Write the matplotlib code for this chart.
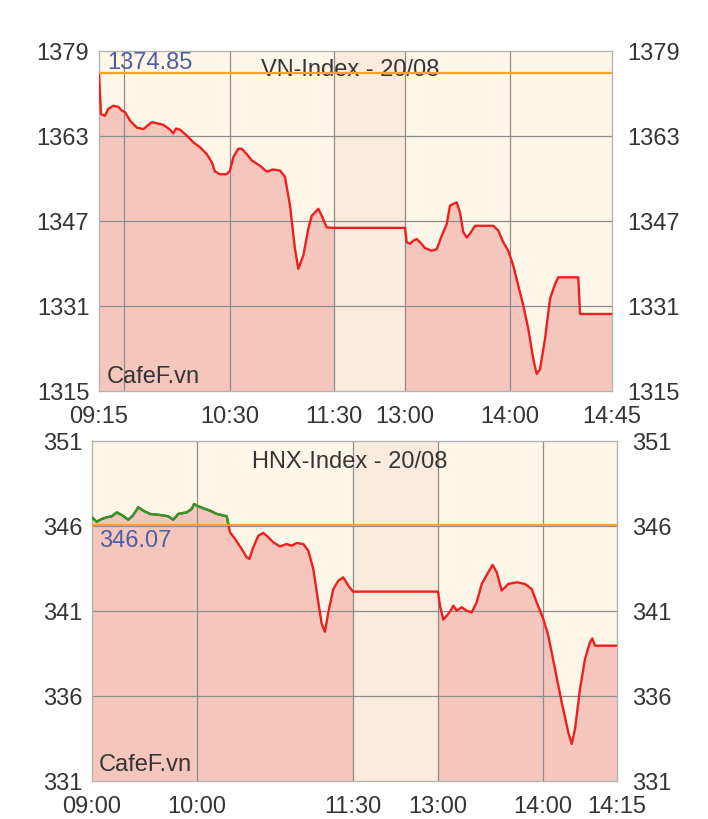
"""
Intraday VN-Index / HNX-Index charts, CafeF style
"""
import numpy as np
import matplotlib
matplotlib.use("Agg")
import matplotlib.pyplot as plt

plt.rcParams['font.family'] = ['Liberation Sans', 'DejaVu Sans']

# VN-Index (x is the chart's session slot, 09:15 = 0)
vn_x = [0, 2, 6, 9.3, 14.3, 19.3, 22.7, 26, 31, 37.7, 44.3, 47.7, 52.7, 57.7, 64.3,
        71, 74.3, 77, 81, 87.7, 94.3, 101, 107.7, 112.7, 116, 121, 127.7, 131, 134.3,
        139.3, 142.7, 147.7, 152.7, 161, 167.7, 174.3, 181, 186, 191, 196, 199.3,
        204.3, 209.3, 212.7, 216, 219.3, 222.7, 227.7, 235, 306, 307.7, 311, 314.3,
        317.7, 321, 326, 332.7, 337.7, 342.7, 347.7, 351, 357.7, 361, 364.3, 367.7,
        371, 376, 394.3, 399.3, 404.3, 409.3, 414.3, 419.3, 424.3, 429.3, 434.3,
        437.7, 441, 446, 451, 456, 459.3, 479.3, 481, 513]
vn_y = [1374.85, 1367.1, 1366.8, 1368.1, 1368.7, 1368.5, 1367.8, 1367.5, 1365.9, 1364.6,
        1364.3, 1364.8, 1365.6, 1365.4, 1365.1, 1364.2, 1363.5, 1364.4, 1364.2, 1363.1,
        1361.8, 1360.9, 1359.6, 1358.1, 1356.3, 1355.8, 1355.8, 1356.5, 1359.0, 1360.6,
        1360.6, 1359.6, 1358.4, 1357.4, 1356.3, 1356.7, 1356.5, 1355.3, 1349.9, 1341.7,
        1338.0, 1340.5, 1345.5, 1348.0, 1348.6, 1349.3, 1348.0, 1345.8, 1345.7, 1345.7,
        1343.0, 1342.7, 1343.3, 1343.6, 1343.0, 1341.9, 1341.4, 1341.7, 1344.2, 1346.4,
        1349.9, 1350.5, 1348.6, 1344.9, 1343.9, 1344.6, 1346.1, 1346.1, 1345.2, 1343.0,
        1341.4, 1338.6, 1334.8, 1331.1, 1326.7, 1321.0, 1318.2, 1319.1, 1324.8, 1332.3,
        1335.1, 1336.4, 1336.4, 1329.5, 1329.5]
vn_ref = 1374.85
vn_yticks = [1315, 1331, 1347, 1363, 1379]
vn_xticks = [0, 131, 235, 306, 411, 513]
vn_xlabels = ["09:15", "10:30", "11:30", "13:00", "14:00", "14:45"]
vn_extra_grid = [25]
vn_lunch = (235, 306)

# HNX-Index (09:00 = 0)
hnx_x = [0, 4.7, 9.7, 14.7, 19.7, 24.7, 29.7, 36.3, 41.3, 46.3, 51.3, 58, 68, 76.3,
         81.3, 86.3, 94.7, 99.7, 102, 106.3, 111.3, 118, 124.7, 134.7, 136.3, 138,
         143, 149.7, 154.7, 157.3, 161.3, 166.3, 171.3, 176.3, 181.3, 188, 194.7,
         199.7, 204.7, 211.3, 216.3, 221.3, 226.3, 229.7, 233, 236.3, 241.3, 246.3,
         251.3, 256.3, 261, 346, 348, 351.3, 354.7, 358, 361.3, 364.7, 369.7, 374.7,
         379.7, 384.7, 389.7, 396.3, 400.7, 404.7, 409.7, 416.3, 424.7, 433, 439.7,
         444.7, 451.3, 456.3, 463, 469.7, 476.3, 479.7, 483, 488, 493, 498, 500.3,
         503, 525]
hnx_y = [346.51, 346.25, 346.41, 346.51, 346.57, 346.80, 346.65, 346.37, 346.65, 347.10,
         346.90, 346.71, 346.65, 346.57, 346.37, 346.71, 346.80, 347.00, 347.29, 347.16,
         347.04, 346.90, 346.71, 346.57, 346.12, 345.63, 345.24, 344.65, 344.16, 344.06,
         344.75, 345.43, 345.59, 345.34, 345.04, 344.80, 344.94, 344.84, 345.00, 344.94,
         344.55, 343.47, 341.51, 340.24, 339.78, 340.92, 342.29, 342.78, 342.98, 342.49,
         342.14, 342.14, 341.31, 340.49, 340.72, 340.96, 341.31, 341.02, 341.22, 341.02,
         340.92, 341.51, 342.59, 343.28, 343.71, 343.28, 342.20, 342.59, 342.69, 342.59,
         342.29, 341.51, 340.53, 339.55, 337.59, 335.63, 333.86, 333.18, 334.06, 336.41,
         338.18, 339.16, 339.39, 338.96, 338.96]
hnx_ref = 346.07
hnx_yticks = [331, 336, 341, 346, 351]
hnx_xticks = [0, 105, 261, 346, 451, 525]
hnx_xlabels = ["09:00", "10:00", "11:30", "13:00", "14:00", "14:15"]
hnx_lunch = (261, 346)

BG = "#fef6e7"
FILL = "#f4c6bc"
LUNCH = "#fbebdc"
RED = "#ee1f1f"
GREEN = "#279a27"
ORANGE = "#f5a42a"
GRID = "#8c8c8c"
TEXT = "#353535"
BLUE = "#4b5ea6"
FS = 17


def draw_panel(ax, x, y, ref, yticks, xticks, xlabels, lunch, title, ref_pos,
               extra_grid=()):
    x = np.array(x)
    y = np.array(y)
    ymin, ymax = yticks[0], yticks[-1]

    ax.set_facecolor(BG)
    ax.axvspan(lunch[0], lunch[1], color=LUNCH, lw=0, zorder=0.5)

    # area under the curve, left out in the lunch break
    am = x <= lunch[0]
    pm = x >= lunch[1]
    ax.fill_between(x[am], y[am], ymin, color=FILL, lw=0, zorder=1)
    ax.fill_between(x[pm], y[pm], ymin, color=FILL, lw=0, zorder=1)

    # grid
    for v in list(xticks[1:-1]) + list(extra_grid):
        ax.axvline(v, color=GRID, lw=0.9, zorder=2)
    for v in yticks[1:-1]:
        ax.axhline(v, color=GRID, lw=0.9, zorder=2)

    ax.axhline(ref, color=ORANGE, lw=1.6, zorder=4)
    ax.plot(x, y, color=RED, lw=1.7, zorder=3)
    ax.plot(x, np.ma.masked_where(y <= ref, y), color=GREEN, lw=1.7, zorder=3.1)

    ax.set_xlim(xticks[0], xticks[-1])
    ax.set_ylim(ymin, ymax)
    ax.set_xticks(xticks)
    ax.set_xticklabels(xlabels)
    ax.set_yticks(yticks)
    ax.tick_params(axis='x', length=0, pad=10, labelsize=FS, colors=TEXT)
    ax.tick_params(axis='y', length=0, pad=7, labelsize=FS, colors=TEXT)
    for s in ax.spines.values():
        s.set_color("#b4b4b4")
        s.set_linewidth(1)

    ax2 = ax.twinx()
    ax2.set_ylim(ymin, ymax)
    ax2.set_yticks(yticks)
    ax2.tick_params(axis='y', length=0, pad=11, labelsize=FS, colors=TEXT)
    for s in ax2.spines.values():
        s.set_visible(False)

    ax.text(0.49, title[1], title[0], transform=ax.transAxes, ha='center',
            va='center', fontsize=FS, color=TEXT, zorder=3.5)
    ax.text(ref_pos[0], ref_pos[1], f"{ref:.2f}", transform=ax.transAxes,
            ha='left', va='center', fontsize=FS, color=BLUE, zorder=5)
    ax.text(ref_pos[0] if ref_pos[0] > 0.014 else 0.013, title[2], "CafeF.vn",
            transform=ax.transAxes, ha='left', va='center', fontsize=FS,
            color=TEXT, zorder=5)


def main():
    fig = plt.figure(figsize=(7.08, 8.2), dpi=100)
    ax_vn = fig.add_axes([99 / 708, 1 - 392 / 820, 513 / 708, 340 / 820])
    ax_hnx = fig.add_axes([92 / 708, 1 - 782 / 820, 525 / 708, 340 / 820])

    draw_panel(ax_vn, vn_x, vn_y, vn_ref, vn_yticks, vn_xticks, vn_xlabels,
               vn_lunch, ("VN-Index - 20/08", 0.947, 0.044), (0.016, 0.968),
               extra_grid=vn_extra_grid)
    draw_panel(ax_hnx, hnx_x, hnx_y, hnx_ref, hnx_yticks, hnx_xticks, hnx_xlabels,
               hnx_lunch, ("HNX-Index - 20/08", 0.941, 0.05), (0.013, 0.709))

    fig.savefig("out.png", dpi=100)


if __name__ == "__main__":
    main()
